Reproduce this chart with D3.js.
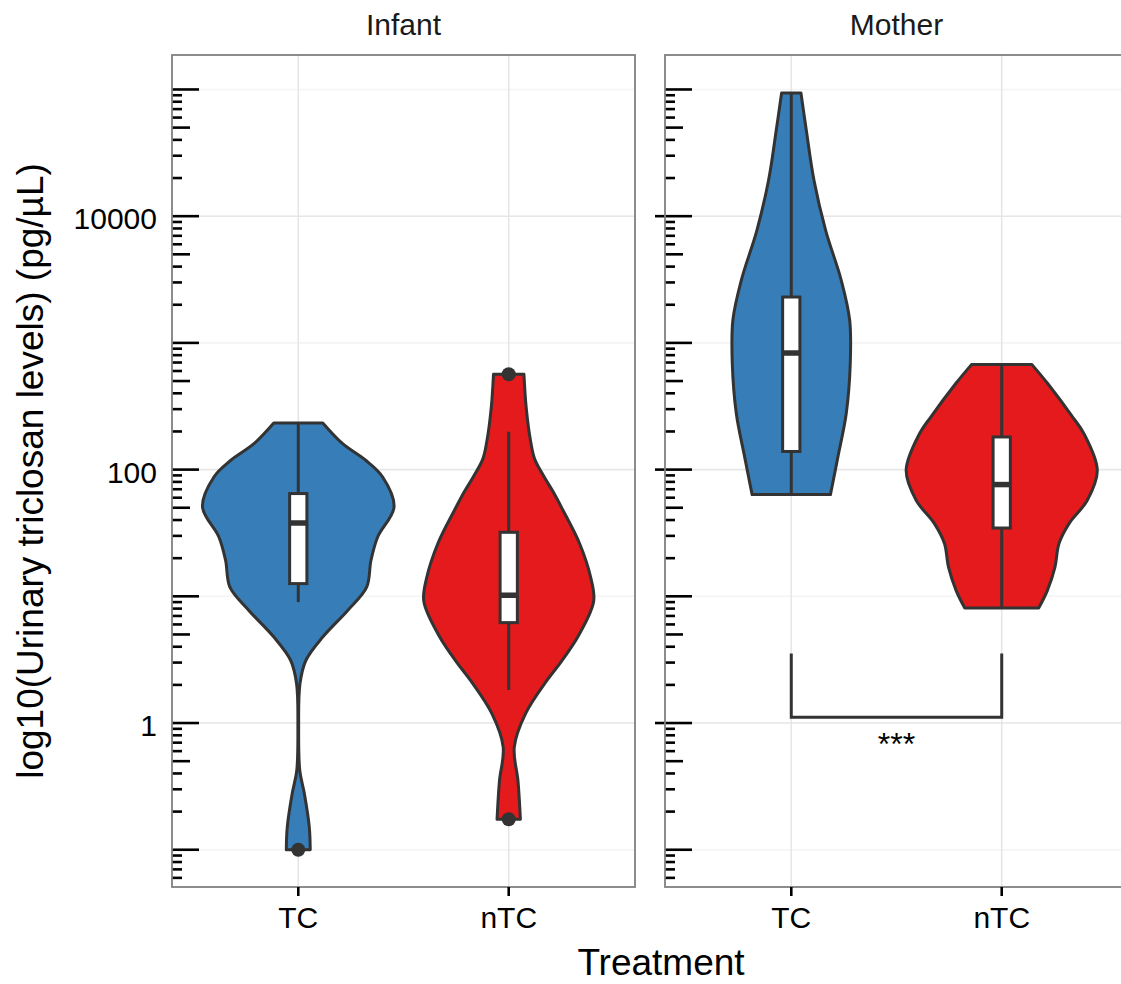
<!DOCTYPE html>
<html>
<head>
<meta charset="utf-8">
<script src="https://cdn.jsdelivr.net/npm/d3@7"></script>
<style>
  body { margin: 0; background: #fff; }
  text { font-family: "Liberation Sans", Arial, Helvetica, sans-serif; }
</style>
</head>
<body>
<div id="chart"></div>
<script>
(function () {
    'use strict';

    // ---- data ----
    var facets = ["Infant", "Mother"];
    var treatments = ["TC", "nTC"];
    var tickValues = [1, 100, 10000];
    var tickLabels = ["1", "100", "10000"];
    var majorGrid = [1, 100, 10000];
    var minorGrid = [0.1, 10, 1000, 100000];

    // violin outlines: [concentration, relative width]
    var violinInfantTC = [
        [233, 0.256], [160, 0.463], [118, 0.707], [87.4, 0.881], [50.7, 1.0],
        [29.4, 0.829], [19.2, 0.759], [11.8, 0.714], [7.74, 0.516], [4.77, 0.255],
        [3.13, 0.080], [2.05, 0.018], [0.93, 0.004], [0.42, 0.016], [0.279, 0.063],
        [0.151, 0.115], [0.100, 0.125]
    ];
    var violinInfantNTC = [
        [566, 0.159], [306, 0.183], [165, 0.230], [121, 0.271], [89, 0.365],
        [65.6, 0.470], [48.2, 0.564], [26, 0.741], [14.1, 0.856], [9.14, 0.887],
        [4.93, 0.731], [3.01, 0.543], [2.21, 0.407], [1.19, 0.177], [0.645, 0.058],
        [0.348, 0.097], [0.174, 0.122]
    ];
    var violinMotherTC = [
        [93800, 0.101], [47600, 0.157], [19200, 0.237], [7740, 0.359], [3120, 0.522],
        [1510, 0.610], [687, 0.616], [277, 0.574], [126, 0.487], [63.5, 0.409]
    ];
    var violinMotherNTC = [
        [674, 0.316], [478, 0.480], [260, 0.741], [192, 0.859], [98.8, 0.998],
        [57.3, 0.894], [37.5, 0.703], [26.1, 0.598], [17.0, 0.556], [11.1, 0.476],
        [8.09, 0.386]
    ];

    // box stats: [lower whisker, Q1, median, Q3, upper whisker]
    var boxInfantTC = [9.0, 12.6, 37.9, 64.7, 233];
    var boxInfantNTC = [1.82, 6.2, 10.2, 32, 199];
    var boxMotherTC = [63.5, 139, 832, 2302, 93800];
    var boxMotherNTC = [8.09, 34.6, 76.2, 181, 674];

    var outliersInfantTC = [0.1];
    var outliersInfantNTC = [566, 0.174];
    var outliersMotherTC = [];
    var outliersMotherNTC = [];

    // significance bracket (Mother): [top of arms, bar], label
    var bracketMother = [3.53, 1.11];
    var bracketLabel = "***";

    var groups = [
        {facet: "Infant", trt: "TC", violin: violinInfantTC, box: boxInfantTC, out: outliersInfantTC},
        {facet: "Infant", trt: "nTC", violin: violinInfantNTC, box: boxInfantNTC, out: outliersInfantNTC},
        {facet: "Mother", trt: "TC", violin: violinMotherTC, box: boxMotherTC, out: outliersMotherTC},
        {facet: "Mother", trt: "nTC", violin: violinMotherNTC, box: boxMotherNTC, out: outliersMotherNTC}
    ];

    var colors = {TC: "#377EB8", nTC: "#E41A1C"};
    var ink = "#333333";

    // ---- layout ----
    var width = 1121, height = 984;
    var panelTop = 55, panelBottom = 887;
    var panelLeft = 172, panelW = 463, panelGap = 30;

    var svg = d3.select("#chart").append("svg")
        .attr("width", width)
        .attr("height", height);

    var y = d3.scaleLog()
        .domain([Math.pow(10, -1.294), Math.pow(10, 5.272)])
        .range([panelBottom, panelTop]);

    var x = d3.scalePoint()
        .domain(treatments)
        .range([0, panelW])
        .padding(0.6);

    var step = x.step();
    var w = d3.scaleLinear().domain([0, 1]).range([0, 0.455 * step]);
    var boxHalf = 0.041 * step;

    var defs = svg.append("defs");

    facets.forEach(function (facet, fi) {
        var px = panelLeft + fi * (panelW + panelGap);
        var g = svg.append("g").attr("transform", "translate(" + px + ",0)");

        defs.append("clipPath").attr("id", "clip" + fi)
            .append("rect")
            .attr("x", 0).attr("y", panelTop)
            .attr("width", panelW).attr("height", panelBottom - panelTop);

        var inner = g.append("g").attr("clip-path", "url(#clip" + fi + ")");

        // grid
        inner.selectAll("line.minor")
            .data(minorGrid)
            .enter().append("line")
            .attr("x1", 0).attr("x2", panelW)
            .attr("y1", function (d) { return y(d); })
            .attr("y2", function (d) { return y(d); })
            .attr("stroke", "#f4f4f4").attr("stroke-width", 1.6);

        inner.selectAll("line.major")
            .data(majorGrid)
            .enter().append("line")
            .attr("x1", 0).attr("x2", panelW)
            .attr("y1", function (d) { return y(d); })
            .attr("y2", function (d) { return y(d); })
            .attr("stroke", "#e6e6e6").attr("stroke-width", 1.6);

        inner.selectAll("line.vgrid")
            .data(treatments)
            .enter().append("line")
            .attr("x1", function (d) { return x(d); })
            .attr("x2", function (d) { return x(d); })
            .attr("y1", panelTop).attr("y2", panelBottom)
            .attr("stroke", "#e6e6e6").attr("stroke-width", 1.6);

        // log ticks inside the panel
        var logTicks = [];
        for (var e = -2; e <= 5; e++) {
            for (var k = 1; k <= 9; k++) {
                var v = k * Math.pow(10, e);
                if (v >= y.domain()[0] && v <= y.domain()[1]) logTicks.push({v: v, k: k});
            }
        }
        inner.selectAll("line.logtick")
            .data(logTicks)
            .enter().append("line")
            .attr("x1", 0)
            .attr("x2", function (d) { return d.k === 1 ? 27 : (d.k === 5 ? 18 : 10); })
            .attr("y1", function (d) { return y(d.v); })
            .attr("y2", function (d) { return y(d.v); })
            .attr("stroke", "#000").attr("stroke-width", 2.6);

        var sub = groups.filter(function (d) { return d.facet === facet; });

        // violins
        var area = d3.area()
            .y(function (d) { return y(d[0]); })
            .curve(d3.curveCatmullRom.alpha(0.5));

        sub.forEach(function (grp) {
            var cx = x(grp.trt);
            inner.append("path")
                .datum(grp.violin)
                .attr("d", area
                    .x0(function (d) { return cx - w(d[1]); })
                    .x1(function (d) { return cx + w(d[1]); }))
                .attr("fill", colors[grp.trt])
                .attr("stroke", ink)
                .attr("stroke-width", 3)
                .attr("stroke-linejoin", "round");

            // whisker
            inner.append("line")
                .attr("x1", cx).attr("x2", cx)
                .attr("y1", y(grp.box[0])).attr("y2", y(grp.box[4]))
                .attr("stroke", ink).attr("stroke-width", 3);

            // box
            inner.append("rect")
                .attr("x", cx - boxHalf)
                .attr("width", 2 * boxHalf)
                .attr("y", y(grp.box[3]))
                .attr("height", y(grp.box[1]) - y(grp.box[3]))
                .attr("fill", "#fff")
                .attr("stroke", ink).attr("stroke-width", 3);

            inner.append("line")
                .attr("x1", cx - boxHalf).attr("x2", cx + boxHalf)
                .attr("y1", y(grp.box[2])).attr("y2", y(grp.box[2]))
                .attr("stroke", ink).attr("stroke-width", 5.5);

            // outliers
            inner.selectAll(null)
                .data(grp.out)
                .enter().append("circle")
                .attr("cx", cx)
                .attr("cy", function (d) { return y(d); })
                .attr("r", 7)
                .attr("fill", ink);
        });

        // significance bracket
        if (facet === "Mother") {
            var xa = x(treatments[0]), xb = x(treatments[1]);
            var p = d3.path();
            p.moveTo(xa, y(bracketMother[0]));
            p.lineTo(xa, y(bracketMother[1]));
            p.lineTo(xb, y(bracketMother[1]));
            p.lineTo(xb, y(bracketMother[0]));
            inner.append("path")
                .attr("d", p.toString())
                .attr("fill", "none")
                .attr("stroke", ink).attr("stroke-width", 3);
            inner.append("text")
                .attr("x", (xa + xb) / 2)
                .attr("y", y(bracketMother[1]) + 38)
                .attr("text-anchor", "middle")
                .attr("font-size", 32)
                .attr("fill", "#000")
                .text(bracketLabel);

            // small outside axis stubs
            g.selectAll("line.stub")
                .data(tickValues)
                .enter().append("line")
                .attr("x1", -10).attr("x2", 0)
                .attr("y1", function (d) { return y(d); })
                .attr("y2", function (d) { return y(d); })
                .attr("stroke", "#000").attr("stroke-width", 2.6);
        }

        // border
        g.append("rect")
            .attr("x", 0).attr("y", panelTop)
            .attr("width", panelW).attr("height", panelBottom - panelTop)
            .attr("fill", "none")
            .attr("stroke", "#808080").attr("stroke-width", 1.8);

        // strip label
        g.append("text")
            .attr("x", panelW / 2)
            .attr("y", 35)
            .attr("text-anchor", "middle")
            .attr("font-size", 30)
            .attr("fill", "#1a1a1a")
            .text(facet);

        // x axis
        var xa2 = g.append("g").attr("transform", "translate(0," + panelBottom + ")");
        xa2.selectAll("line")
            .data(treatments)
            .enter().append("line")
            .attr("x1", function (d) { return x(d); })
            .attr("x2", function (d) { return x(d); })
            .attr("y1", 0).attr("y2", 9)
            .attr("stroke", "#000").attr("stroke-width", 2.6);
        xa2.selectAll("text")
            .data(treatments)
            .enter().append("text")
            .attr("x", function (d) { return x(d); })
            .attr("y", 41)
            .attr("text-anchor", "middle")
            .attr("font-size", 30)
            .attr("fill", "#000")
            .text(function (d) { return d; });
    });

    // y axis labels (left panel only)
    svg.append("g").selectAll("text")
        .data(tickValues)
        .enter().append("text")
        .attr("x", 157)
        .attr("y", function (d) { return y(d) + 13; })
        .attr("text-anchor", "end")
        .attr("font-size", 30)
        .attr("fill", "#000")
        .text(function (d, i) { return tickLabels[i]; });

    // axis titles
    svg.append("text")
        .attr("x", 661)
        .attr("y", 975)
        .attr("text-anchor", "middle")
        .attr("font-size", 37)
        .attr("fill", "#000")
        .text("Treatment");

    svg.append("text")
        .attr("transform", "translate(43," + ((panelTop + panelBottom) / 2) + ") rotate(-90)")
        .attr("text-anchor", "middle")
        .attr("font-size", 37)
        .attr("fill", "#000")
        .text("log10(Urinary triclosan levels) (pg/µL)");
}());
</script>
</body>
</html>
